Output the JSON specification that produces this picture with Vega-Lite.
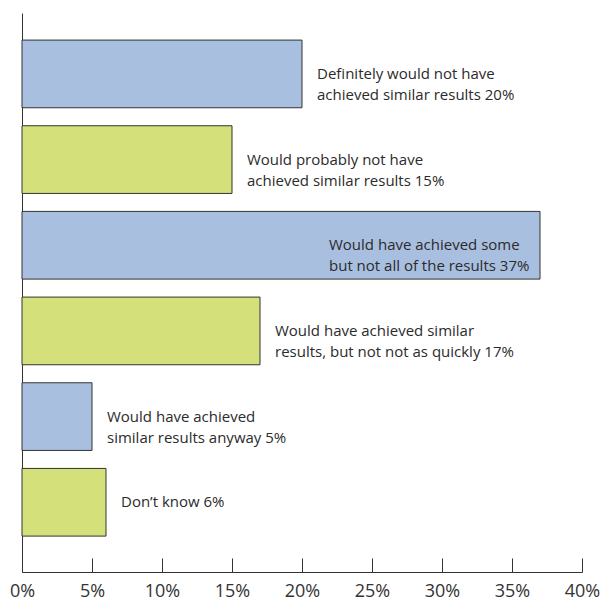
{
  "$schema": "https://vega.github.io/schema/vega-lite/v6.json",
  "width": 560,
  "height": 559,
  "autosize": {"type": "none"},
  "padding": {"left": 22, "top": 13, "right": 19, "bottom": 31},
  "background": "white",
  "config": {"view": {"stroke": null}, "font": "Open Sans"},
  "data": {
    "values": [
      {"id": "a", "value": 20, "label": "Definitely would not have\nachieved similar results 20%"},
      {"id": "b", "value": 15, "label": "Would probably not have\nachieved similar results 15%"},
      {"id": "c", "value": 37, "label": "Would have achieved some\nbut not all of the results 37%"},
      {"id": "d", "value": 17, "label": "Would have achieved similar\nresults, but not not as quickly 17%"},
      {"id": "e", "value": 5, "label": "Would have achieved\nsimilar results anyway 5%"},
      {"id": "f", "value": 6, "label": "Don\u2019t know 6%"}
    ]
  },
  "encoding": {
    "y": {
      "field": "id", "type": "nominal",
      "scale": {"paddingInner": 0.21, "paddingOuter": 0.3676, "align": 0.43},
      "axis": {"title": null, "labels": false, "ticks": false, "domainColor": "#333333", "domainWidth": 1}
    },
    "x": {
      "field": "value", "type": "quantitative",
      "scale": {"domain": [0, 40], "nice": false},
      "axis": {
        "title": null, "values": [0, 5, 10, 15, 20, 25, 30, 35, 40], "grid": false,
        "labelExpr": "datum.value + '%'", "labelFontSize": 18, "labelColor": "#333333",
        "labelFont": "Open Sans", "tickSize": -14, "tickColor": "#333333", "domainColor": "#333333",
        "labelPadding": 24, "labelFlush": false, "labelOverlap": false
      }
    }
  },
  "layer": [
    {
      "mark": {"type": "bar", "stroke": "#333333", "strokeWidth": 1},
      "encoding": {
        "color": {
          "field": "id", "type": "nominal", "legend": null,
          "scale": {"range": ["#a9bfe0", "#d4e17a", "#a9bfe0", "#d4e17a", "#a9bfe0", "#d4e17a"]}
        }
      }
    },
    {
      "transform": [{"filter": "datum.value < 30"}],
      "mark": {"type": "text", "align": "left", "baseline": "middle", "dx": 15, "fontSize": 15, "lineHeight": 21, "lineBreak": "\n", "color": "#2b2b2b"},
      "encoding": {"text": {"field": "label"}}
    },
    {
      "transform": [{"filter": "datum.value >= 30"}],
      "mark": {"type": "text", "align": "left", "baseline": "middle", "dx": -211, "fontSize": 15, "lineHeight": 21, "lineBreak": "\n", "color": "#2b2b2b"},
      "encoding": {"text": {"field": "label"}}
    }
  ]
}
